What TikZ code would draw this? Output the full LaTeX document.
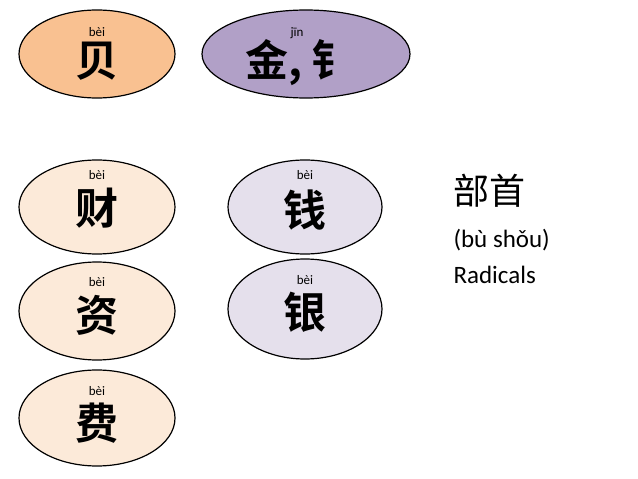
\documentclass[tikz,border=0pt]{standalone}
\usepackage{fontspec}
\setmainfont{Carlito}
\newfontfamily\cjk{Noto Sans CJK SC}
\newfontfamily\cjkb{Noto Sans CJK SC Bold}
\begin{document}
\begin{tikzpicture}[x=1pt,y=-1pt,
  ell/.style={draw=black,line width=1.2pt},
  hz/.style={font=\cjkb\fontsize{43}{43}\selectfont},
  py/.style={font=\fontsize{13}{13}\selectfont}]
\useasboundingbox (0,0) rectangle (638,479);
\definecolor{orng}{HTML}{F9C191}
\definecolor{purp}{HTML}{B1A0C7}
\definecolor{lorng}{HTML}{FCEAD9}
\definecolor{lpurp}{HTML}{E5E0EC}
\draw[ell,fill=orng] (97,54) ellipse [x radius=78,y radius=44];
\draw[ell,fill=purp] (306,54) ellipse [x radius=104,y radius=44];
\draw[ell,fill=lorng] (97,207) ellipse [x radius=78,y radius=47];
\draw[ell,fill=lorng] (97,311) ellipse [x radius=78,y radius=49];
\draw[ell,fill=lorng] (97,418) ellipse [x radius=78,y radius=48];
\draw[ell,fill=lpurp] (305,207) ellipse [x radius=77,y radius=47];
\draw[ell,fill=lpurp] (305,309) ellipse [x radius=77,y radius=50];
\node[py] (p1) at (97,32) {bèi};
\node[hz] (c1) at (97,61) {贝};
\node[py] (p2) at (297,33) {jīn};
\node[hz] (c2) at (300,63) {金, 钅};
\node[py] (p3) at (97,175) {bèi};
\node[hz] (c3) at (97,208) {财};
\node[py] (p4) at (97,282) {bèi};
\node[hz] (c4) at (97,315) {资};
\node[py] (p5) at (97,391) {bèi};
\node[hz] (c5) at (97,423) {费};
\node[py] (p6) at (305,175) {bèi};
\node[hz] (c6) at (305,210) {钱};
\node[py] (p7) at (305,280) {bèi};
\node[hz] (c7) at (305,312) {银};
\node[anchor=west,font=\cjk\fontsize{36}{36}\selectfont] (t1) at (450,191) {部首};
\node[anchor=west,font=\fontsize{25}{25}\selectfont] (t2) at (450,240) {(bù shǒu)};
\node[anchor=west,font=\fontsize{25}{25}\selectfont] (t3) at (450,275) {Radicals};
\end{tikzpicture}
\end{document}
